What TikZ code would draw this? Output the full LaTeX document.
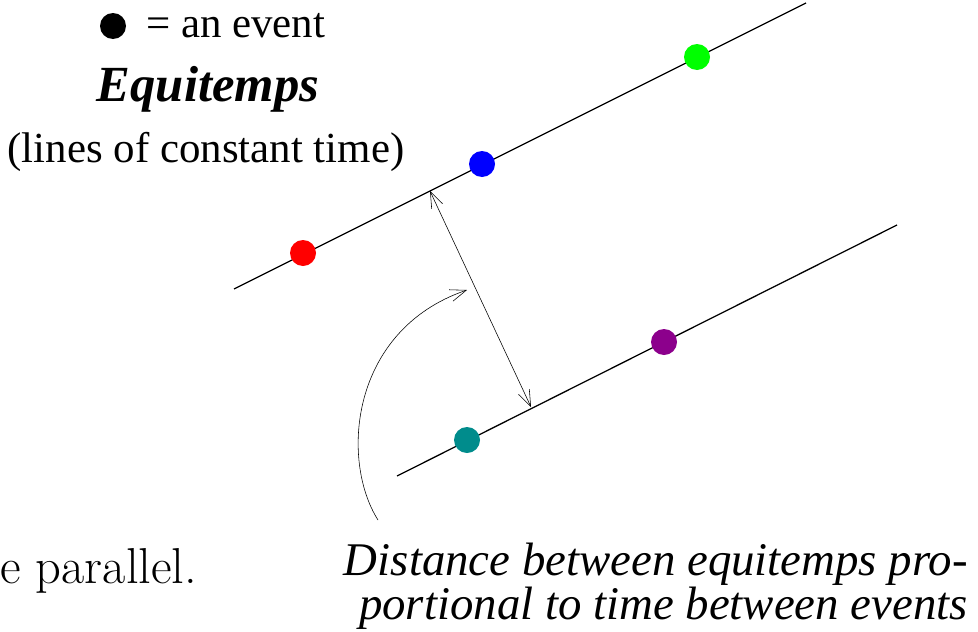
\documentclass[tikz,border=0pt]{standalone}
\usepackage{fontspec}
\newfontfamily\timesfont{Liberation Serif}
\usepackage{tikz}
\usetikzlibrary{positioning,calc}
\usetikzlibrary{arrows.meta}

\definecolor{eventteal}{RGB}{0,140,140}
\definecolor{eventpurple}{RGB}{140,0,140}
\newlength{\pxu}
\setlength{\pxu}{0.025cm}
\tikzset{
  event/.style={circle,fill=#1,minimum size=26\pxu,inner sep=0pt},
  equitemps/.style={line width=0.9pt},
  bigtext/.style={font=\timesfont\fontsize{30.5}{36}\selectfont,inner sep=0pt},
}

\begin{document}
\begin{tikzpicture}[x=0.025cm,y=-0.025cm,>=Stealth]
\useasboundingbox (0,0) rectangle (978,631);

% Legend
\node[event=black] (legdot) at (113,26) {};
\node[bigtext,anchor=west] (legtext) at (146,26) {= an event};
\node[bigtext,font=\timesfont\fontsize{36}{42}\selectfont\bfseries\itshape] (title) at (208,89) {Equitemps};
\node[bigtext] (subtitle) at (206,152) {(lines of constant time)};

% Equitemps (lines of constant time)
\coordinate (upA) at (234,289);
\coordinate (upB) at (806,3);
\coordinate (loA) at (397,476);
\coordinate (loB) at (897,225);
\draw[equitemps] (upA) -- (upB);
\draw[equitemps] (loA) -- (loB);

% Events
\node[event=red] (red) at (303,253) {};
\node[event=blue] (blue) at (482,164) {};
\node[event=green] (green) at (697,57) {};
\node[event=eventteal] (teal) at (467,440) {};
\node[event=eventpurple] (purple) at (664,342) {};

% Distance between the two lines
\coordinate (dtop) at (430,191);
\coordinate (dbot) at (531,407);
\draw[thin,{Straight Barb[length=4mm,width=3mm]}-{Straight Barb[length=4mm,width=3mm]}] (dtop) -- (dbot);

% Explanation
\node[bigtext,font=\timesfont\itshape\fontsize{33.3}{25}\selectfont,align=right,anchor=south east] (note) at (968,630)
{Distance between equitemps pro-\\portional to time between events};
\coordinate (ctail) at (378,520);
\coordinate (chead) at (467,290);
\draw[thin,->,>={Straight Barb[length=4mm,width=3mm]}] (ctail) .. controls (340,460) and (350,330) .. (chead);

% Cut-off caption
\node[inner sep=0pt,anchor=base west,font=\fontsize{35.9}{42}\selectfont] (cut) at (0,583) {e parallel.};
\end{tikzpicture}
\end{document}
